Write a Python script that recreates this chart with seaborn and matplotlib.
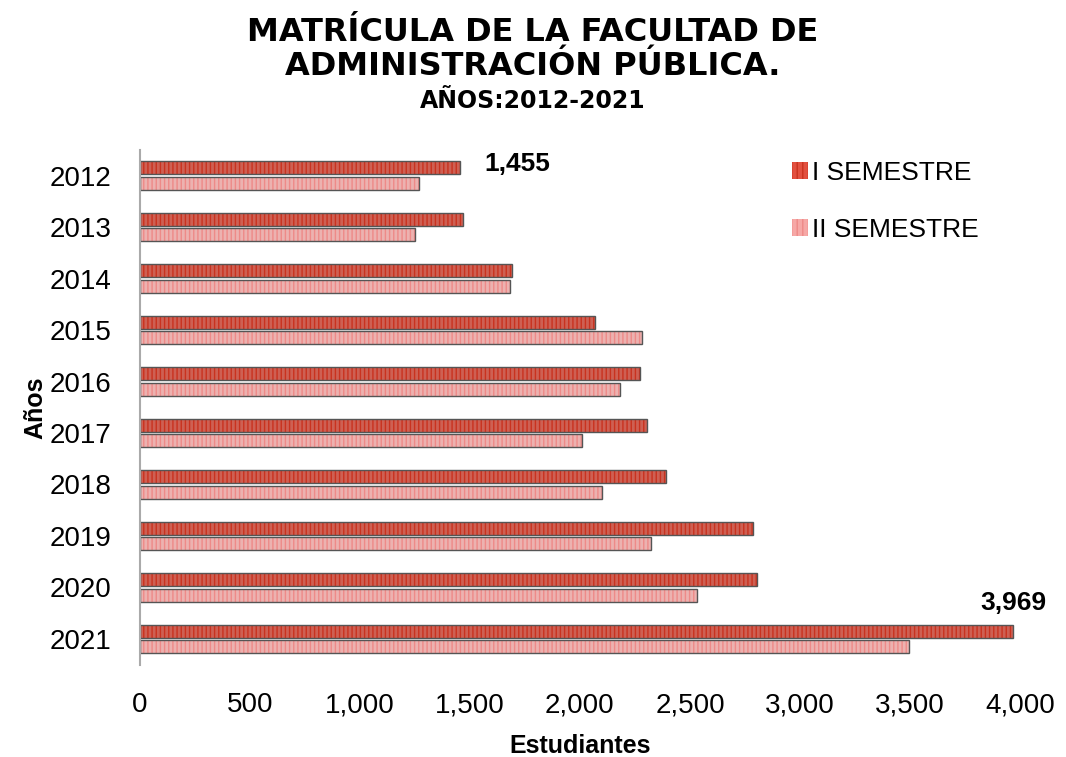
import matplotlib
matplotlib.use("Agg")
import matplotlib.pyplot as plt
import pandas as pd
import seaborn as sns
from matplotlib.patches import Patch, Rectangle
from matplotlib.ticker import FuncFormatter

# data
years = ["2012", "2013", "2014", "2015", "2016", "2017", "2018", "2019", "2020", "2021"]
sem_1 = [1455, 1470, 1690, 2068, 2275, 2305, 2392, 2786, 2805, 3969]
sem_2 = [1268, 1250, 1682, 2280, 2182, 2009, 2100, 2323, 2532, 3495]
series = ["I SEMESTRE", "II SEMESTRE"]

df = pd.DataFrame({
    "Año": years * 2,
    "Estudiantes": sem_1 + sem_2,
    "Semestre": [series[0]] * len(years) + [series[1]] * len(years),
})

face = {"I SEMESTRE": "#e2503f", "II SEMESTRE": "#f6a8a6"}
stripe = {"I SEMESTRE": "#c9321f", "II SEMESTRE": "#ee8a88"}

sns.set_theme(style="white")
plt.rcParams["font.family"] = ["Liberation Sans", "DejaVu Sans"]
plt.rcParams["hatch.linewidth"] = 1.0
plt.rcParams["text.color"] = "black"
plt.rcParams["axes.labelcolor"] = "black"

fig = plt.figure(figsize=(10.66, 7.57), dpi=100)
ax = fig.add_axes([0.131, 0.122, 0.826, 0.680])

sns.barplot(
    data=df, x="Estudiantes", y="Año", hue="Semestre", order=years,
    hue_order=series, palette=face, orient="h", width=0.6, gap=0.15,
    legend=False, ax=ax,
)

# striped fill plus a dark outline
for cont, name in zip(ax.containers, series):
    for p in cont:
        p.set_edgecolor(stripe[name])
        p.set_hatch("||||")
        p.set_linewidth(0)
        ax.add_patch(Rectangle(p.get_xy(), p.get_width(), p.get_height(),
                               fill=False, edgecolor="#555555", linewidth=1.0))

ax.set_xlim(0, 4000)
ax.set_xticks(range(0, 4001, 500))
ax.xaxis.set_major_formatter(FuncFormatter(lambda v, _: f"{int(v):,}"))
ax.tick_params(axis="both", length=0, labelsize=20, colors="black")
ax.tick_params(axis="x", pad=20)
ax.tick_params(axis="y", pad=20)

for s in ["top", "right", "bottom"]:
    ax.spines[s].set_visible(False)
ax.spines["left"].set_color("#aaaaaa")
ax.spines["left"].set_linewidth(1.5)

ax.set_xlabel("Estudiantes", fontsize=18, fontweight="bold", labelpad=11)
ax.set_ylabel("Años", fontsize=18, fontweight="bold", labelpad=2)

# value labels on first and last year
first = ax.containers[0][0]
ax.text(sem_1[0] + 110, first.get_y() + first.get_height() * 0.2, f"{sem_1[0]:,}",
        fontsize=19, fontweight="bold", va="center", ha="left")
last = ax.containers[0][-1]
ax.text(4000 + 120, last.get_y() - 0.42, f"{sem_1[-1]:,}",
        fontsize=19, fontweight="bold", va="center", ha="right")

handles = [Patch(facecolor=face[n], edgecolor=stripe[n], hatch="|||", linewidth=0) for n in series]
ax.legend(handles, series, loc="upper right", bbox_to_anchor=(0.98, 1.025), frameon=False,
          fontsize=19, handlelength=0.6, handleheight=0.6, handletextpad=0.15,
          labelspacing=1.25)

fig.text(0.5, 0.978, "MATRÍCULA DE LA FACULTAD DE\nADMINISTRACIÓN PÚBLICA.",
         ha="center", va="top", fontsize=23, fontweight="bold",
         family="DejaVu Sans", linespacing=1.15)
fig.text(0.5, 0.867, "AÑOS:2012-2021", ha="center", va="center", fontsize=17,
         fontweight="bold", family="DejaVu Sans")

fig.savefig("out.png", dpi=100)
